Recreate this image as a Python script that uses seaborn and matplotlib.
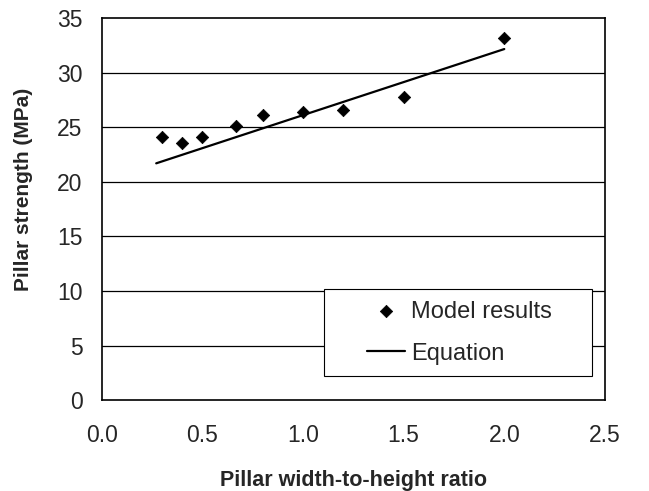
import numpy as np
import matplotlib
matplotlib.use("Agg")
import matplotlib.pyplot as plt
from matplotlib.patches import Rectangle
import seaborn as sns
import pandas as pd

# ── Data ──────────────────────────────────────────
ratio = [0.3, 0.4, 0.5, 0.667, 0.8, 1.0, 1.2, 1.5, 2.0]
strength = [24.15, 23.55, 24.15, 25.13, 26.13, 26.42, 26.57, 27.74, 33.21]

eq_ratio = [0.27, 2.0]
eq_strength = [21.7, 32.17]

x_ticks = [0.0, 0.5, 1.0, 1.5, 2.0, 2.5]
y_ticks = [0, 5, 10, 15, 20, 25, 30, 35]

# ── Style ──────────────────────────────────────
sns.set_style("white")
plt.rcParams["font.family"] = ["Liberation Sans", "DejaVu Sans"]

fig = plt.figure(figsize=(6.49, 4.91), dpi=100)
ax = fig.add_axes([0.157, 0.185, 0.775, 0.778])

df_pts = pd.DataFrame({"ratio": ratio, "strength": strength})
df_eq = pd.DataFrame({"ratio": eq_ratio, "strength": eq_strength})

sns.lineplot(data=df_eq, x="ratio", y="strength", color="black",
             linewidth=1.6, ax=ax, label="Equation", zorder=3)
sns.scatterplot(data=df_pts, x="ratio", y="strength", marker="D", s=40,
                color="black", edgecolor="black", linewidth=0.5, ax=ax,
                label="Model results", zorder=4)

ax.set_xlim(0, 2.5)
ax.set_ylim(0, 35)
ax.set_xticks(x_ticks)
ax.set_xticklabels([f"{t:.1f}" for t in x_ticks])
ax.set_yticks(y_ticks)
ax.tick_params(axis="both", labelsize=16.5, direction="out", length=8,
               width=1, color="black")
ax.tick_params(axis="x", pad=9)
ax.tick_params(axis="y", pad=6)

for y in y_ticks[1:-1]:
    ax.axhline(y, color="black", linewidth=0.9, zorder=1)

for sp in ax.spines.values():
    sp.set_visible(True)
    sp.set_color("black")
    sp.set_linewidth(1.2)

ax.set_xlabel("Pillar width-to-height ratio", fontsize=15.5, fontweight="bold")
ax.set_ylabel("Pillar strength (MPa)", fontsize=15, fontweight="bold")
ax.xaxis.set_label_coords(0.5, -0.182)
ax.yaxis.set_label_coords(-0.137, 0.552)

# legend box (Excel-style, wider than its content)
box = (0.441, 0.063, 0.533, 0.228)
ax.add_patch(Rectangle(box[:2], box[2], box[3], transform=ax.transAxes,
                       facecolor="white", edgecolor="black", linewidth=0.8,
                       zorder=5))

handles, labels = ax.get_legend_handles_labels()
order = [labels.index("Model results"), labels.index("Equation")]
leg = ax.legend([handles[i] for i in order], [labels[i] for i in order],
                loc="center",
                bbox_to_anchor=(box[0] + box[2] / 2 + 0.004, box[1] + box[3] / 2),
                bbox_transform=ax.transAxes, frameon=False,
                fontsize=17, handlelength=1.6, handletextpad=0.26,
                borderpad=0, labelspacing=0.85, borderaxespad=0)
leg.set_zorder(6)

fig.savefig("out.png", dpi=100)
plt.close(fig)
